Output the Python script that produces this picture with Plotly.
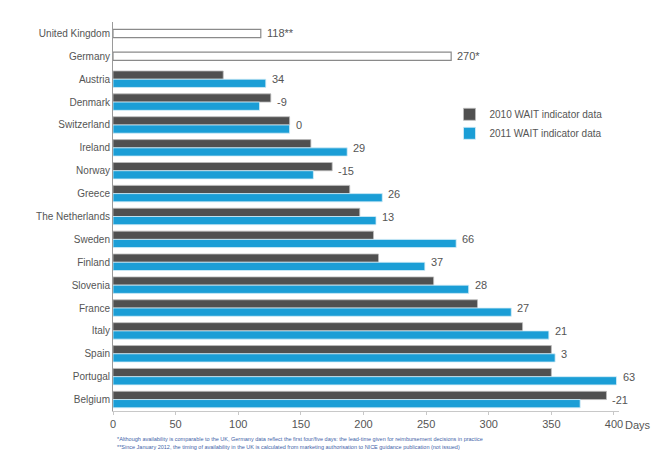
import plotly.graph_objects as go

# Time to availability (days), top to bottom
countries = ["United Kingdom", "Germany", "Austria", "Denmark", "Switzerland", "Ireland",
             "Norway", "Greece", "The Netherlands", "Sweden", "Finland", "Slovenia",
             "France", "Italy", "Spain", "Portugal", "Belgium"]

single_countries = ["United Kingdom", "Germany"]
single_values = [118, 270]
single_labels = ["118**", "270*"]

pair_countries = ["Austria", "Denmark", "Switzerland", "Ireland", "Norway", "Greece",
                  "The Netherlands", "Sweden", "Finland", "Slovenia", "France", "Italy",
                  "Spain", "Portugal", "Belgium"]
days_2010 = [88, 126, 141, 158, 175, 189, 197, 208, 212, 256, 291, 327, 350, 350, 394]
days_2011 = [122, 117, 141, 187, 160, 215, 210, 274, 249, 284, 318, 348, 353, 402, 373]
change_labels = ["34", "-9", "0", "29", "-15", "26", "13", "66", "37", "28", "27", "21", "3", "63", "-21"]

x_ticks = [0, 50, 100, 150, 200, 250, 300, 350, 400]

footnotes = [
    "*Although availability is comparable to the UK, Germany data reflect the first four/five days: the lead-time given for reimbursement decisions in practice",
    "**Since January 2012, the timing of availability in the UK is calculated from marketing authorisation to NICE guidance publication (not issued)",
]

GREY = "#505050"
BLUE = "#1b9ed6"
TEXT = "#555555"
BAR_W = 0.36

fig = go.Figure()

fig.add_trace(go.Bar(
    y=single_countries, x=single_values, orientation="h",
    width=BAR_W, offset=-BAR_W / 2,
    marker=dict(color="white", line=dict(color="#8a8a8a", width=1.2)),
    showlegend=False, hoverinfo="x+y",
))
fig.add_trace(go.Bar(
    y=pair_countries, x=days_2010, orientation="h",
    width=BAR_W, offset=-BAR_W,
    marker=dict(color=GREY, line=dict(color="#bdbdbd", width=0.8)),
    name="2010 WAIT indicator data",
))
fig.add_trace(go.Bar(
    y=pair_countries, x=days_2011, orientation="h",
    width=BAR_W, offset=0,
    marker=dict(color=BLUE, line=dict(color="#d6eef8", width=0.8)),
    name="2011 WAIT indicator data",
))

annotations = []
for c, v, t in zip(single_countries, single_values, single_labels):
    annotations.append(dict(x=v, y=c, text=t, showarrow=False, xanchor="left",
                            xshift=4, font=dict(size=11, color=TEXT)))
for c, a, b, t in zip(pair_countries, days_2010, days_2011, change_labels):
    annotations.append(dict(x=max(a, b), y=c, text=t, showarrow=False, xanchor="left",
                            xshift=4, font=dict(size=11, color=TEXT)))
annotations.append(dict(x=400, y=0, xref="x", yref="paper", yshift=-6, text="Days",
                        showarrow=False, xanchor="left", yanchor="top", xshift=9,
                        font=dict(size=11, color=TEXT)))
for i, note in enumerate(footnotes):
    annotations.append(dict(x=0, y=0, xref="x", yref="paper", yshift=-23 - 8 * i,
                            text=note, showarrow=False, xanchor="left", yanchor="top",
                            xshift=2, font=dict(size=5.5, color="#3f5fa8")))

fig.update_layout(
    width=654, height=451,
    margin=dict(l=113, r=35, t=22, b=40),
    paper_bgcolor="white", plot_bgcolor="white",
    barmode="overlay",
    font=dict(family="Liberation Sans, Arial, sans-serif", size=11, color=TEXT),
    xaxis=dict(range=[0, 404], tickvals=x_ticks, ticktext=[str(v) for v in x_ticks],
               showgrid=False, zeroline=False, showline=True, linecolor="#c8c8c8",
               linewidth=1, ticks="outside", ticklen=3, tickcolor="#c8c8c8",
               tickfont=dict(size=11, color=TEXT)),
    yaxis=dict(categoryorder="array", categoryarray=countries, autorange="reversed",
               showgrid=False, zeroline=False, showline=True, linecolor="#9a9a9a",
               linewidth=1, ticks="", ticklen=0, tickfont=dict(size=10, color=TEXT)),
    legend=dict(x=0.665, y=0.80, xanchor="left", yanchor="top",
                font=dict(size=10, color=TEXT), bgcolor="rgba(0,0,0,0)",
                itemwidth=30),
    annotations=annotations,
)

fig.write_html("out.html")
